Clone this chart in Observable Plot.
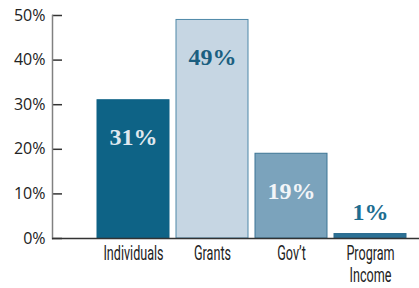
<!DOCTYPE html>
<html>
<head>
<meta charset="utf-8">
<script src="https://cdn.jsdelivr.net/npm/d3@7"></script>
<script src="https://cdn.jsdelivr.net/npm/@observablehq/plot@0.6"></script>
<style>
  html, body { margin: 0; padding: 0; background: #fff; }
  #chart svg { display: block; }
</style>
</head>
<body>
<div id="chart"></div>
<script>
const categories = ["Individuals", "Grants", "Gov\u2019t", "Program\nIncome"];
const values = [0.31, 0.49, 0.19, 0.01];
const valueLabels = ["31%", "49%", "19%", "1%"];
const barFills = ["#0e6386", "#c6d6e3", "#7ba3bc", "#2c7195"];
const barStrokes = ["#0e6386", "#4f88a8", "#3d7595", "#2a6b8e"];
const labelColors = ["#dfe8ef", "#1b5f80", "#f2f5f8", "#1d6d90"];
const labelInside = [true, true, true, false];
const yTicks = [0, 0.1, 0.2, 0.3, 0.4, 0.5];
const yTickLabels = ["0%", "10%", "20%", "30%", "40%", "50%"];

const data = categories.map((c, i) => ({
  cat: c, value: values[i], label: valueLabels[i],
  fill: barFills[i], stroke: barStrokes[i], lc: labelColors[i], inside: labelInside[i]
}));

const W = 419, H = 288, ML = 52, MR = 0, MT = 15, MB = 50;
const serif = "'Liberation Serif', 'Times New Roman', Times, serif";

const chart = Plot.plot({
  width: W, height: H,
  marginLeft: ML, marginRight: MR, marginTop: MT, marginBottom: MB,
  x: { domain: categories, range: [95.5, 408], paddingInner: 0.0856, paddingOuter: 0, label: null },
  y: { domain: [0, 0.5], label: null },
  color: { type: "identity" },
  marks: [
    Plot.barY(data, { x: "cat", y: "value", fill: "fill", stroke: "stroke", strokeWidth: 1 }),
    Plot.text(data.filter(d => d.inside), {
      x: "cat", y: "value", text: "label", fill: "lc", dy: 37.5,
      fontFamily: serif, fontWeight: "bold", fontSize: 24
    }),
    Plot.text(data.filter(d => !d.inside), {
      x: "cat", y: "value", text: "label", fill: "lc", dy: -22,
      fontFamily: serif, fontWeight: "bold", fontSize: 24
    }),
    Plot.tickY(yTicks, { y: d => d, stroke: "#333", strokeWidth: 1.5, insetRight: W - ML - MR - 10 }),
    Plot.frame({ anchor: "left", stroke: "#808080", strokeWidth: 1.5 }),
    Plot.ruleY([0], { stroke: "#333", strokeWidth: 1.5 }),
    Plot.axisY(yTicks, {
      tickSize: 0, tickPadding: 7, label: null,
      tickFormat: (d, i) => yTickLabels[yTicks.indexOf(d)],
      fontFamily: "Open Sans", fontSize: 16, fill: "#222"
    }),
    Plot.axisX({
      tickSize: 0, tickPadding: 6, label: null, lineHeight: 1.1,
      fontFamily: "Roboto", fontSize: 20, fill: "#222"
    })
  ]
});

document.getElementById("chart").appendChild(chart);

d3.select(chart).selectAll("g[aria-label='x-axis tick label'] text").each(function() {
  const t = this.getAttribute("transform") || "";
  this.setAttribute("transform", t + " scale(0.63,1)");
});
</script>
</body>
</html>
